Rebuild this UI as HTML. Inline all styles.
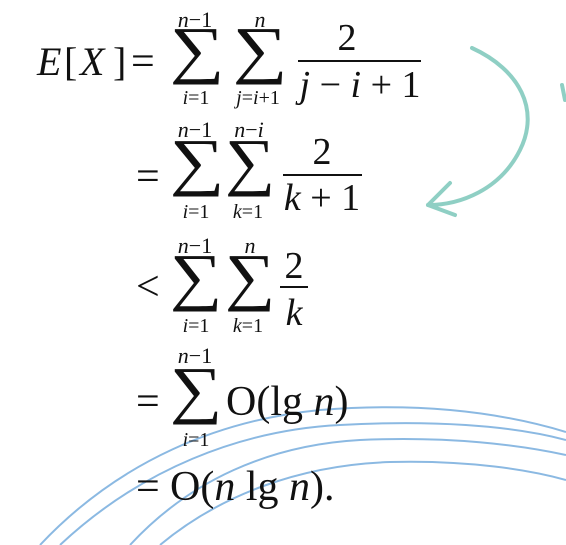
<!DOCTYPE html>
<html><head><meta charset="utf-8"><style>
html,body{margin:0;padding:0;background:#fff;width:566px;height:545px;overflow:hidden}
svg{display:block}
text{font-family:"Liberation Serif","DejaVu Serif",serif;fill:#111}
.it{font-style:italic}
</style></head><body>
<svg width="566" height="545" viewBox="0 0 566 545" font-family="Liberation Serif, serif">
<g fill="none" stroke="#6fa8dc" stroke-width="2" opacity="0.8">
<path d="M40 545 C120 460 220 420 320 410 C420 402 500 412 566 432"/>
<path d="M60 545 C140 470 240 430 340 425 C430 420 510 425 566 440"/>
<path d="M130 545 C190 480 270 445 360 440 C450 436 520 445 566 455"/>
<path d="M160 545 C220 495 300 465 390 462 C470 460 530 470 566 480"/>
</g>
<g fill="none" stroke="#8fcfc4" stroke-width="4" stroke-linecap="round">
<path d="M472 48 C520 70 540 110 520 150 C500 190 460 205 428 205"/>
<path d="M428 205 L450 183 M428 205 L455 215"/>
<path d="M562 85 L565 100"/>
</g>
<g>
<text x="37" y="75" font-size="40" class="it">E</text>
<text x="64" y="75" font-size="40">[</text>
<text x="80" y="75" font-size="40" class="it">X</text>
<text x="113" y="75" font-size="40">]</text>
<text x="131" y="75" font-size="42">=</text>
<text transform="translate(197,71) scale(1.2,1)" x="0" y="0" font-size="64" text-anchor="middle">∑</text>
<text x="195" y="27" font-size="22" text-anchor="middle"><tspan class="it">n</tspan>−1</text>
<text x="196" y="104" font-size="20" text-anchor="middle"><tspan class="it">i</tspan>=1</text>
<text transform="translate(260,71) scale(1.2,1)" x="0" y="0" font-size="64" text-anchor="middle">∑</text>
<text x="260" y="27" font-size="22" text-anchor="middle" class="it">n</text>
<text x="258" y="104" font-size="20" text-anchor="middle"><tspan class="it">j</tspan>=<tspan class="it">i</tspan>+1</text>
<text x="347" y="50" font-size="38" text-anchor="middle">2</text>
<line x1="298" y1="61" x2="421" y2="61" stroke="#111" stroke-width="2"/>
<text x="360" y="97" font-size="38" text-anchor="middle"><tspan class="it">j</tspan> − <tspan class="it">i</tspan> + 1</text>
</g>
<g>
<text x="136" y="190" font-size="42">=</text>
<text transform="translate(197,183) scale(1.2,1)" x="0" y="0" font-size="64" text-anchor="middle">∑</text>
<text x="195" y="137" font-size="22" text-anchor="middle"><tspan class="it">n</tspan>−1</text>
<text x="196" y="218" font-size="20" text-anchor="middle"><tspan class="it">i</tspan>=1</text>
<text transform="translate(250,183) scale(1.1,1)" x="0" y="0" font-size="64" text-anchor="middle">∑</text>
<text x="249" y="137" font-size="22" text-anchor="middle"><tspan class="it">n</tspan>−<tspan class="it">i</tspan></text>
<text x="248" y="218" font-size="20" text-anchor="middle"><tspan class="it">k</tspan>=1</text>
<text x="322" y="164" font-size="38" text-anchor="middle">2</text>
<line x1="283" y1="175" x2="362" y2="175" stroke="#111" stroke-width="2"/>
<text x="322" y="210" font-size="38" text-anchor="middle"><tspan class="it">k</tspan> + 1</text>
</g>
<g>
<text x="136" y="300" font-size="42">&lt;</text>
<text transform="translate(196,298) scale(1.15,1)" x="0" y="0" font-size="64" text-anchor="middle">∑</text>
<text x="195" y="253" font-size="22" text-anchor="middle"><tspan class="it">n</tspan>−1</text>
<text x="196" y="332" font-size="20" text-anchor="middle"><tspan class="it">i</tspan>=1</text>
<text transform="translate(250,298) scale(1.1,1)" x="0" y="0" font-size="64" text-anchor="middle">∑</text>
<text x="250" y="253" font-size="22" text-anchor="middle" class="it">n</text>
<text x="248" y="332" font-size="20" text-anchor="middle"><tspan class="it">k</tspan>=1</text>
<text x="294" y="278" font-size="38" text-anchor="middle">2</text>
<line x1="280" y1="287" x2="308" y2="287" stroke="#111" stroke-width="2"/>
<text x="294" y="325" font-size="38" text-anchor="middle" class="it">k</text>
</g>
<g>
<text x="136" y="415" font-size="42">=</text>
<text transform="translate(196,411) scale(1.15,1)" x="0" y="0" font-size="64" text-anchor="middle">∑</text>
<text x="195" y="363" font-size="22" text-anchor="middle"><tspan class="it">n</tspan>−1</text>
<text x="196" y="446" font-size="20" text-anchor="middle"><tspan class="it">i</tspan>=1</text>
<text x="226" y="415" font-size="42">O(lg <tspan class="it">n</tspan>)</text>
</g>
<g>
<text x="136" y="500" font-size="42">=</text>
<text x="170" y="500" font-size="42">O(<tspan class="it">n</tspan> lg <tspan class="it">n</tspan>).</text>
</g>
</svg>
</body></html>
